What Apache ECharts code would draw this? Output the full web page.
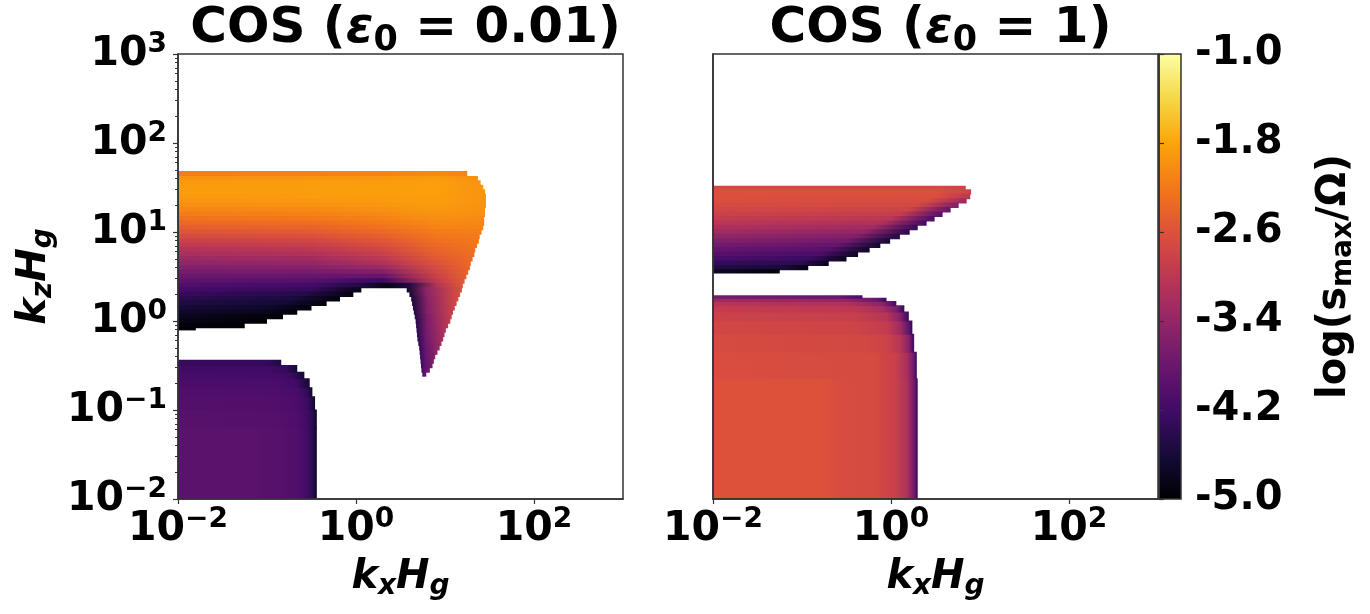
<!DOCTYPE html>
<html><head><meta charset="utf-8">
<script src="https://cdn.jsdelivr.net/npm/echarts@6/dist/echarts.min.js"></script>
<style>html,body{margin:0;padding:0;background:#fff}#chart{width:1370px;height:614px}</style>
</head><body><div id="chart"></div>
<script>
// ---------- data ----------
const xTickValues = [0.01, 1, 100];
const yTickValues = [0.01, 0.1, 1, 10, 100, 1000];
const colorbarTicks = [-5.0, -4.2, -3.4, -2.6, -1.8, -1.0];
const valueRange = [-5, -1];
const epsilonLabels = ['0.01', '1'];
const infernoStops = ['#000004','#160b39','#420a68','#6a176e','#932667','#bc3754','#dd513a','#f37819','#fca50a','#f6d746','#fcffa4'];

// each row: [log10 kz low, log10 kz high, log10 kx, log(s/Omega), log10 kx, log(s/Omega), ...]
const leftUpperRows = [
[1.625,1.68,-2,-2.15,0.3,-2.1,0.9,-2.05,1.25,-2.1],
[1.575,1.625,-2,-1.97,0.3,-1.93,0.9,-1.9,1.37,-2.0],
[1.525,1.575,-2,-1.9,0.3,-1.87,0.9,-1.86,1.40,-1.95],
[1.475,1.525,-2,-1.88,0.3,-1.86,0.9,-1.85,1.43,-1.95],
[1.425,1.475,-2,-1.88,0.3,-1.86,0.9,-1.85,1.45,-1.95],
[1.375,1.425,-2,-1.9,0.3,-1.87,0.9,-1.86,1.46,-1.95],
[1.325,1.375,-2,-1.94,-0.5,-1.92,0.3,-1.89,0.9,-1.87,1.46,-1.95],
[1.275,1.325,-2,-2.0,-0.5,-1.97,0.3,-1.93,0.9,-1.89,1.46,-1.96],
[1.225,1.275,-2,-2.08,-0.5,-2.04,0.3,-1.98,0.9,-1.92,1.45,-1.98],
[1.175,1.225,-2,-2.16,-0.5,-2.12,0.3,-2.04,0.9,-1.96,1.45,-2.0],
[1.125,1.175,-2,-2.25,-0.5,-2.2,0.3,-2.1,0.9,-2.0,1.44,-2.03],
[1.075,1.125,-2,-2.35,-0.5,-2.3,0.3,-2.18,0.9,-2.05,1.44,-2.07],
[1.025,1.075,-2,-2.46,-0.5,-2.4,0.3,-2.26,0.9,-2.1,1.43,-2.11],
[0.975,1.025,-2,-2.57,-0.5,-2.5,0.3,-2.35,0.9,-2.16,1.41,-2.15],
[0.925,0.975,-2,-2.7,-0.5,-2.62,0.3,-2.45,0.9,-2.22,1.39,-2.18],
[0.875,0.925,-2,-2.84,-0.5,-2.75,0.3,-2.55,0.9,-2.28,1.38,-2.2],
[0.825,0.875,-2,-2.97,-0.5,-2.88,0.3,-2.65,0.9,-2.34,1.36,-2.23],
[0.775,0.825,-2,-3.09,-0.5,-3.0,0.3,-2.75,0.9,-2.4,1.34,-2.26],
[0.725,0.775,-2,-3.2,-0.5,-3.12,0.3,-2.86,0.9,-2.46,1.33,-2.29],
[0.675,0.725,-2,-3.31,-0.5,-3.25,0.3,-2.98,0.9,-2.52,1.31,-2.32],
[0.625,0.675,-2,-3.43,-0.5,-3.38,0.3,-3.12,0.9,-2.6,1.29,-2.35],
[0.575,0.625,-2,-3.55,-0.5,-3.52,0.3,-3.3,0.9,-2.68,1.28,-2.38],
[0.525,0.575,-2,-3.67,-0.5,-3.67,0.3,-3.55,0.9,-2.76,1.26,-2.42],
[0.475,0.525,-2,-3.8,-0.5,-3.83,0.3,-3.85,0.9,-2.85,1.24,-2.46],
[0.425,0.475,-2,-3.93,-0.5,-4.0,0.3,-4.25,0.9,-2.95,1.22,-2.5],
[0.375,0.425,-2,-4.06,-0.5,-4.18,0.05,-4.5,0.35,-4.85,0.6,-4.5,0.9,-3.1,1.20,-2.55],
[0.325,0.375,-2,-4.18,-0.5,-4.3,0.06,-4.85],
[0.275,0.325,-2,-4.3,-0.6,-4.45,-0.03,-4.9],
[0.225,0.275,-2,-4.41,-0.7,-4.56,-0.18,-4.92],
[0.175,0.225,-2,-4.51,-0.8,-4.64,-0.33,-4.93],
[0.125,0.175,-2,-4.6,-1.0,-4.7,-0.5,-4.95],
[0.075,0.125,-2,-4.7,-1.1,-4.78,-0.66,-4.96],
[0.025,0.075,-2,-4.78,-0.82,-4.97],
[-0.025,0.025,-2,-4.86,-1.0,-4.98],
[-0.075,-0.025,-2,-4.93,-1.25,-5.0],
[-0.1,-0.075,-2,-4.98,-1.8,-5.0],
[0.325,0.375,0.57,-4.7,0.79,-3.45,1.19,-2.6],
[0.275,0.325,0.60,-4.6,0.80,-3.45,1.17,-2.64],
[0.225,0.275,0.62,-4.58,0.81,-3.48,1.15,-2.68],
[0.175,0.225,0.63,-4.55,0.81,-3.5,1.13,-2.73],
[0.125,0.175,0.64,-4.52,0.81,-3.52,1.11,-2.78],
[0.075,0.125,0.65,-4.5,0.80,-3.55,1.09,-2.83],
[0.025,0.075,0.66,-4.48,0.81,-3.58,1.075,-2.88],
[-0.025,0.025,0.67,-4.46,0.81,-3.6,1.06,-2.93],
[-0.075,-0.025,0.675,-4.44,0.80,-3.63,1.035,-3.0],
[-0.125,-0.075,0.68,-4.42,0.80,-3.66,1.01,-3.07],
[-0.175,-0.125,0.685,-4.4,0.79,-3.7,0.995,-3.14],
[-0.225,-0.175,0.69,-4.38,0.79,-3.73,0.98,-3.2],
[-0.275,-0.225,0.70,-4.35,0.79,-3.76,0.96,-3.27],
[-0.325,-0.275,0.71,-4.32,0.79,-3.8,0.94,-3.34],
[-0.375,-0.325,0.715,-4.3,0.785,-3.83,0.915,-3.42],
[-0.425,-0.375,0.72,-4.27,0.78,-3.86,0.89,-3.5],
[-0.475,-0.425,0.725,-4.24,0.78,-3.89,0.875,-3.57],
[-0.525,-0.475,0.73,-4.2,0.78,-3.92,0.86,-3.64],
[-0.575,-0.525,0.735,-4.15,0.77,-3.95,0.83,-3.72],
[-0.62,-0.575,0.745,-4.08,0.76,-3.97,0.79,-3.82]
];
const leftLowerRows = [
[-2.0,-1.2,-2,-3.95,-1.2,-3.95,-0.88,-4.0,-0.67,-4.06,-0.56,-4.18,-0.49,-4.4,-0.44,-4.75],
[-1.2,-1.0,-2,-3.99,-0.88,-4.02,-0.67,-4.07,-0.56,-4.19,-0.49,-4.4,-0.44,-4.75],
[-1.0,-0.85,-2,-4.03,-0.88,-4.05,-0.67,-4.1,-0.56,-4.22,-0.5,-4.45,-0.46,-4.75],
[-0.85,-0.75,-2,-4.06,-0.9,-4.08,-0.65,-4.15,-0.55,-4.32,-0.49,-4.7],
[-0.75,-0.65,-2,-4.1,-0.9,-4.12,-0.67,-4.2,-0.52,-4.65],
[-0.65,-0.575,-2,-4.15,-0.9,-4.17,-0.72,-4.26,-0.58,-4.65],
[-0.575,-0.5,-2,-4.2,-1.0,-4.22,-0.8,-4.3,-0.66,-4.6],
[-0.5,-0.44,-2,-4.3,-1.0,-4.33,-0.84,-4.55]
];
const rightUpperRows = [
[1.475,1.515,-2,-2.72,0.5,-2.72,0.84,-2.8],
[1.425,1.475,-2,-2.63,0.5,-2.63,0.9,-2.8],
[1.375,1.425,-2,-2.63,0.5,-2.64,0.89,-3.0],
[1.325,1.375,-2,-2.65,0.4,-2.67,0.85,-3.3],
[1.275,1.325,-2,-2.69,0.3,-2.72,0.76,-3.6],
[1.225,1.275,-2,-2.75,0.2,-2.8,0.67,-3.85],
[1.175,1.225,-2,-2.83,0.1,-2.9,0.58,-4.0],
[1.125,1.175,-2,-2.92,0.0,-3.0,0.49,-4.1],
[1.075,1.125,-2,-3.02,-0.1,-3.12,0.4,-4.2],
[1.025,1.075,-2,-3.14,-0.2,-3.25,0.3,-4.3],
[0.975,1.025,-2,-3.27,-0.3,-3.4,0.21,-4.4],
[0.925,0.975,-2,-3.41,-0.4,-3.55,0.1,-4.5],
[0.875,0.925,-2,-3.56,-0.5,-3.7,-0.01,-4.6],
[0.825,0.875,-2,-3.71,-0.6,-3.85,-0.12,-4.65],
[0.775,0.825,-2,-3.85,-0.7,-3.98,-0.24,-4.7],
[0.725,0.775,-2,-3.98,-0.8,-4.1,-0.37,-4.75],
[0.675,0.725,-2,-4.12,-0.9,-4.25,-0.5,-4.8],
[0.625,0.675,-2,-4.3,-1.0,-4.4,-0.7,-4.85],
[0.575,0.625,-2,-4.5,-1.2,-4.6,-0.93,-4.9],
[0.54,0.575,-2,-4.75,-1.25,-4.95]
];
const rightLowerRows = [
[-2.0,-0.65,-2,-2.6,-0.72,-2.6,-0.62,-2.67,-0.18,-2.7,-0.1,-2.78,0.05,-2.85,0.18,-3.15,0.26,-3.7,0.3,-4.3],
[-0.65,-0.35,-2,-2.66,-0.18,-2.7,-0.1,-2.78,0.05,-2.86,0.18,-3.2,0.25,-3.7,0.29,-4.3],
[-0.35,-0.15,-2,-2.7,-0.3,-2.74,-0.05,-2.82,0.1,-3.05,0.2,-3.5,0.26,-4.3],
[-0.15,0.0,-2,-2.75,-0.4,-2.8,-0.05,-2.92,0.1,-3.25,0.2,-3.9,0.24,-4.4],
[0.0,0.1,-2,-2.82,-0.4,-2.88,-0.05,-3.05,0.1,-3.5,0.2,-4.3],
[0.1,0.17,-2,-2.92,-0.4,-2.98,-0.1,-3.2,0.05,-3.6,0.15,-4.3],
[0.17,0.22,-2,-3.05,-0.5,-3.12,-0.1,-3.45,0.06,-4.2],
[0.22,0.255,-2,-3.3,-0.5,-3.4,-0.15,-3.8,-0.05,-4.2],
[0.255,0.284,-2,-3.7,-0.6,-3.8,-0.32,-4.1]
];

// ---------- helpers ----------
const FONT = 'DejaVu Sans';
const AXIS_COLOR = '#333';
const stopRgb = infernoStops.map(h => [parseInt(h.slice(1,3),16), parseInt(h.slice(3,5),16), parseInt(h.slice(5,7),16)]);
function colorOf(v) {
  let t = (v - valueRange[0]) / (valueRange[1] - valueRange[0]);
  t = Math.max(0, Math.min(1, t));
  const p = t * (stopRgb.length - 1);
  const i = Math.min(Math.floor(p), stopRgb.length - 2);
  const f = p - i, a = stopRgb[i], b = stopRgb[i + 1];
  return 'rgb(' + [0,1,2].map(k => Math.round(a[k] + (b[k] - a[k]) * f)).join(',') + ')';
}
function rowRenderer(rows) {
  return function (params, api) {
    const r = rows[params.dataIndex];
    const lo = Math.pow(10, r[0]), hi = Math.pow(10, r[1]);
    const knots = [];
    for (let i = 2; i < r.length; i += 2) knots.push([Math.pow(10, r[i]), r[i + 1]]);
    const pTop = api.coord([knots[0][0], hi]);
    const pBot = api.coord([knots[knots.length - 1][0], lo]);
    const x0 = pTop[0], x1 = pBot[0], y0 = pTop[1], y1 = pBot[1];
    const w = x1 - x0;
    const stops = knots.map(k => ({
      offset: Math.max(0, Math.min(1, (api.coord([k[0], lo])[0] - x0) / w)),
      color: colorOf(k[1])
    }));
    return {
      type: 'rect',
      shape: { x: x0, y: y0 - 0.5, width: w, height: y1 - y0 + 1 },
      style: { fill: new echarts.graphic.LinearGradient(0, 0, 1, 0, stops) }
    };
  };
}
function rowSeries(rows, idx) {
  return {
    type: 'custom', xAxisIndex: idx, yAxisIndex: idx === 0 ? 0 : 2, clip: true, z: 2,
    renderItem: rowRenderer(rows),
    encode: { x: 0, y: 1 },
    data: rows.map(r => [Math.pow(10, r[2]), Math.pow(10, r[0])]),
    silent: true
  };
}
const powRich = {
  b: { fontFamily: FONT, fontWeight: 'bold', fontSize: 41, color: '#000', lineHeight: 46 },
  s: { fontFamily: FONT, fontWeight: 'bold', fontSize: 28, color: '#000', lineHeight: 32, verticalAlign: 'top' }
};
function powLabel(v) {
  const e = Math.round(Math.log10(v));
  return '{b|10}{s|' + (e < 0 ? '\u2212' + (-e) : e) + '}';
}
const nameRich = {
  i: { fontFamily: FONT, fontWeight: 'bold', fontStyle: 'italic', fontSize: 40, color: '#000', lineHeight: 46 },
  u: { fontFamily: FONT, fontWeight: 'bold', fontStyle: 'italic', fontSize: 28, color: '#000', lineHeight: 26, verticalAlign: 'bottom' }
};
const minorValues = [];
for (let e = -2; e < 3; e++) for (let m = 2; m < 10; m++) minorValues.push(m * Math.pow(10, e));

function logX(gridIndex) {
  return {
    gridIndex, type: 'log', logBase: 10, min: 0.01, max: 1000, z: 6,
    axisLine: { show: true, lineStyle: { color: AXIS_COLOR, width: 1.5 } },
    axisTick: { show: true, customValues: xTickValues, length: 5, lineStyle: { color: AXIS_COLOR, width: 1.2 } },
    axisLabel: { customValues: xTickValues, formatter: powLabel, rich: powRich, margin: 7 },
    splitLine: { show: false }, minorTick: { show: false },
    name: '{i|k}{u|x}{i|H}{u|g}', nameLocation: 'middle', nameGap: 56,
    nameTextStyle: { rich: nameRich }
  };
}
const titleRich = {
  a: { fontFamily: FONT, fontWeight: 'bold', fontSize: 50, color: '#000', lineHeight: 58 },
  e: { fontFamily: FONT, fontWeight: 'bold', fontStyle: 'italic', fontSize: 50, color: '#000', lineHeight: 58 },
  z: { fontFamily: FONT, fontWeight: 'bold', fontSize: 35, color: '#000', lineHeight: 42, verticalAlign: 'bottom' }
};

const option = {
  animation: false,
  backgroundColor: '#fff',
  title: epsilonLabels.map((eps, i) => ({
    text: '{a|COS (}{e|\u03b5}{z|0}{a| = ' + eps + ')}',
    left: i === 0 ? 400.5 : 935.5, top: -5, textAlign: 'center',
    textStyle: { rich: titleRich }
  })),
  grid: [
    { left: 178, top: 54, width: 445, height: 445, show: true, z: 5, borderColor: AXIS_COLOR, borderWidth: 1.5, backgroundColor: 'rgba(0,0,0,0)' },
    { left: 713, top: 54, width: 445, height: 445, show: true, z: 5, borderColor: AXIS_COLOR, borderWidth: 1.5, backgroundColor: 'rgba(0,0,0,0)' },
    { left: 1159, top: 54, width: 22, height: 445, show: true, z: 5, borderColor: AXIS_COLOR, borderWidth: 1.5, backgroundColor: 'rgba(0,0,0,0)' }
  ],
  xAxis: [
    logX(0), logX(1),
    { gridIndex: 2, type: 'value', min: 0, max: 1, show: false }
  ],
  yAxis: [
    {
      gridIndex: 0, type: 'log', logBase: 10, min: 0.01, max: 1000, z: 6, position: 'left',
      axisLine: { show: true, lineStyle: { color: AXIS_COLOR, width: 1.5 } },
      axisTick: { show: true, customValues: yTickValues, length: 5, lineStyle: { color: AXIS_COLOR, width: 1.2 } },
      axisLabel: { customValues: yTickValues, formatter: powLabel, rich: powRich, margin: 11 },
      splitLine: { show: false },
      name: '{i|k}{u|z}{i|H}{u|g}', nameLocation: 'middle', nameGap: 120,
      nameTextStyle: { rich: nameRich }
    },
    {
      gridIndex: 0, type: 'log', logBase: 10, min: 0.01, max: 1000, z: 6, position: 'left', offset: 0,
      axisLine: { show: false },
      axisTick: { show: true, customValues: minorValues, length: 3, lineStyle: { color: AXIS_COLOR, width: 1 } },
      axisLabel: { show: false }, splitLine: { show: false }
    },
    {
      gridIndex: 1, type: 'log', logBase: 10, min: 0.01, max: 1000, z: 6, position: 'left',
      axisLine: { show: true, lineStyle: { color: AXIS_COLOR, width: 1.5 } },
      axisTick: { show: false }, axisLabel: { show: false }, splitLine: { show: false }
    },
    {
      gridIndex: 2, type: 'value', min: valueRange[0], max: valueRange[1], position: 'right', z: 6,
      axisLine: { show: true, lineStyle: { color: AXIS_COLOR, width: 1.5 } },
      axisTick: { show: true, customValues: colorbarTicks, length: 5, lineStyle: { color: AXIS_COLOR, width: 1.2 } },
      axisLabel: { customValues: colorbarTicks, formatter: v => v.toFixed(1), margin: 14,
        fontFamily: FONT, fontWeight: 'bold', fontSize: 40, color: '#000' },
      splitLine: { show: false },
      name: '{n|log(s}{m|max}{n|/\u03a9)}', nameLocation: 'middle', nameGap: 131,
      nameTextStyle: { rich: {
        n: { fontFamily: FONT, fontWeight: 'bold', fontSize: 40, color: '#000', lineHeight: 46 },
        m: { fontFamily: FONT, fontWeight: 'bold', fontSize: 28, color: '#000', lineHeight: 26, verticalAlign: 'bottom' }
      } }
    }
  ],
  series: [
    rowSeries(leftUpperRows, 0),
    rowSeries(leftLowerRows, 0),
    rowSeries(rightUpperRows, 1),
    rowSeries(rightLowerRows, 1),
    {
      type: 'custom', xAxisIndex: 2, yAxisIndex: 3, clip: true, silent: true,
      data: [[0, valueRange[0]]],
      renderItem: function (params, api) {
        const pTop = api.coord([0, valueRange[1]]);
        const pBot = api.coord([1, valueRange[0]]);
        const stops = infernoStops.map((c, i) => ({ offset: 1 - i / (infernoStops.length - 1), color: c }));
        return {
          type: 'rect',
          shape: { x: pTop[0], y: pTop[1], width: pBot[0] - pTop[0], height: pBot[1] - pTop[1] },
          style: { fill: new echarts.graphic.LinearGradient(0, 0, 0, 1, stops) }
        };
      }
    }
  ]
};
const chart = echarts.init(document.getElementById('chart'), null, { renderer: 'canvas' });
chart.setOption(option);
</script>
</body></html>
